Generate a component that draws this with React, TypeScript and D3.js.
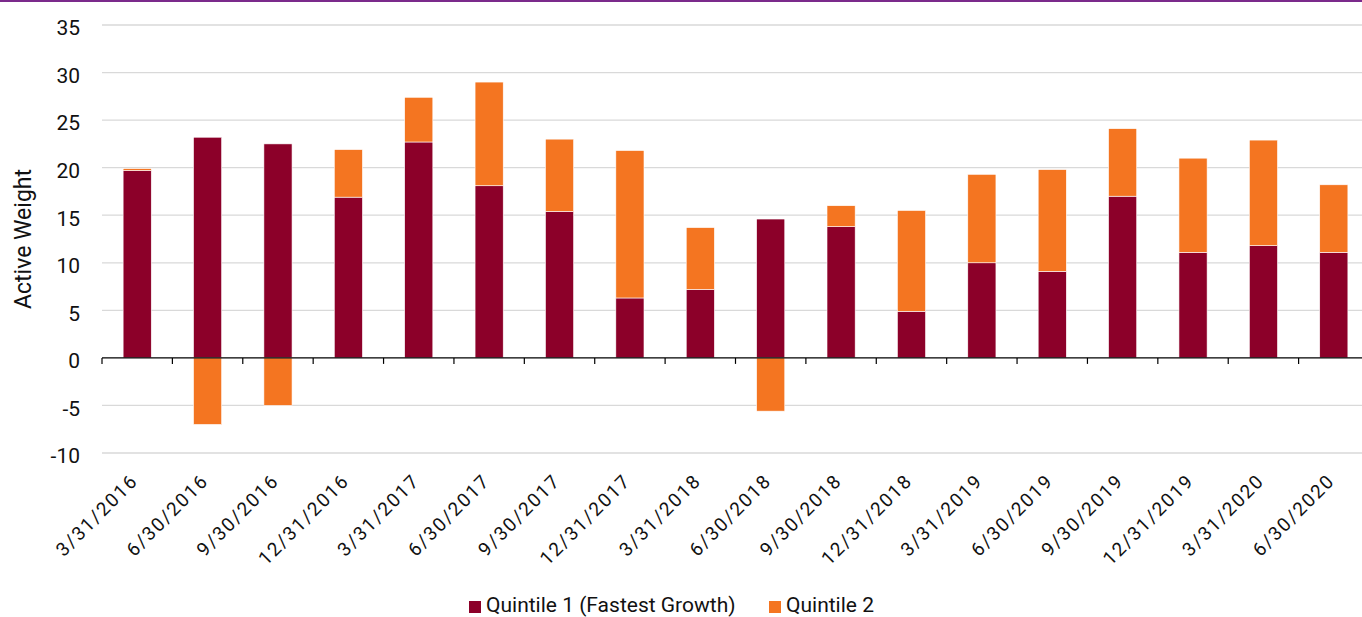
import React from 'react'
import * as d3 from 'd3'

const dates = [
  '3/31/2016', '6/30/2016', '9/30/2016', '12/31/2016',
  '3/31/2017', '6/30/2017', '9/30/2017', '12/31/2017',
  '3/31/2018', '6/30/2018', '9/30/2018', '12/31/2018',
  '3/31/2019', '6/30/2019', '9/30/2019', '12/31/2019',
  '3/31/2020', '6/30/2020',
]
const quintile1 = [19.7, 23.2, 22.5, 16.9, 22.7, 18.1, 15.4, 6.3, 7.2, 14.6, 13.8, 4.9, 10.0, 9.1, 17.0, 11.1, 11.8, 11.1]
const quintile2 = [0.2, -7.0, -5.0, 5.0, 4.7, 10.9, 7.6, 15.5, 6.5, -5.6, 2.2, 10.6, 9.3, 10.7, 7.1, 9.9, 11.1, 7.1]
const yTicks = [-10, -5, 0, 5, 10, 15, 20, 25, 30, 35]
const seriesNames = ['Quintile 1 (Fastest Growth)', 'Quintile 2']
const colors = ['#8c0029', '#f47521']

const W = 1362
const H = 617
const font = 'Roboto, "DejaVu Sans", sans-serif'

export default function App() {
  const x = d3.scaleBand<string>().domain(dates).range([102, 1369]).paddingInner(0.6).paddingOuter(0.3)
  const step = x.step()
  const y = d3.scaleLinear().domain([-10, 35]).range([453, 25])

  // stack: positive on top of positive, negative below zero
  const bars: { key: string; i: number; y0: number; y1: number }[] = []
  dates.forEach((d, i) => {
    const a = quintile1[i]
    const b = quintile2[i]
    bars.push({ key: 'q1', i, y0: Math.min(0, a), y1: Math.max(0, a) })
    if (b >= 0) {
      const base = a > 0 ? a : 0
      bars.push({ key: 'q2', i, y0: base, y1: base + b })
    } else {
      const base = a < 0 ? a : 0
      bars.push({ key: 'q2', i, y0: base + b, y1: base })
    }
  })

  const x0 = 102
  return (
    <svg width={W} height={H} style={{ display: 'block', position: 'absolute', left: 0, top: 0 }}>
      <rect x={0} y={0} width={W} height={H} fill="#fff" />
      <rect x={0} y={0} width={W} height={2} fill="#7b2a8b" />
      {yTicks.map(t => (
        <g key={t}>
          {t !== 0 && <line x1={x0} x2={W} y1={y(t)} y2={y(t)} stroke="#d9d9d9" strokeWidth={1.3} />}
          <text x={80} y={y(t) + 4} dy="0.3em" textAnchor="end" fontFamily={font} fontSize={21} fill="#111">{t}</text>
        </g>
      ))}
      {bars.map((b, k) => (
        <rect key={k}
          x={x(dates[b.i])}
          width={x.bandwidth()}
          y={y(b.y1)}
          height={Math.max(0, y(b.y0) - y(b.y1))}
          fill={b.key === 'q1' ? colors[0] : colors[1]}
          stroke="#fff" strokeWidth={0.6} />
      ))}
      <line x1={x0} x2={W} y1={y(0)} y2={y(0)} stroke="#000" strokeWidth={1.2} />
      {d3.range(dates.length + 1).map(k => (
        <line key={k} x1={x0 + k * step} x2={x0 + k * step} y1={y(0)} y2={y(0) + 6} stroke="#000" strokeWidth={1.2} />
      ))}
      {dates.map(d => {
        const cx = (x(d) as number) + x.bandwidth() / 2 + 2
        const cy = 482
        return (
          <text key={d} transform={`translate(${cx},${cy}) rotate(-45)`} textAnchor="end"
            fontFamily={font} fontSize={19} letterSpacing={1.8} fill="#111">{d}</text>
        )
      })}
      <text transform="translate(31,239) rotate(-90)" textAnchor="middle" fontFamily={font} fontSize={23} fill="#111">Active Weight</text>
      <g fontFamily={font} fontSize={21} fill="#111">
        <rect x={469} y={601} width={12} height={12} fill={colors[0]} />
        <text x={486} y={612}>{seriesNames[0]}</text>
        <rect x={769} y={601} width={12} height={12} fill={colors[1]} />
        <text x={786} y={612}>{seriesNames[1]}</text>
      </g>
    </svg>
  )
}
